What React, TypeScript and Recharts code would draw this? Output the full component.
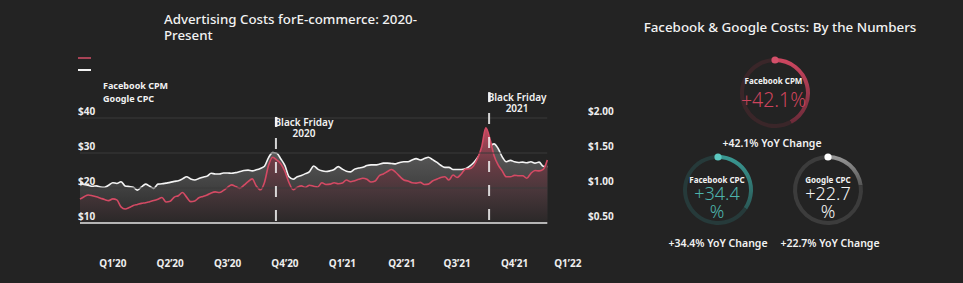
import { Area, Cell, ComposedChart, Pie, PieChart, ReferenceLine, XAxis, YAxis } from 'recharts'

// weekly values, Jan 2020 -> Mar 2022
const facebookCpm = [
    16.8, 17.5, 18.0, 17.8, 17.5, 17.1, 16.7, 16.4, 16.9, 16.6,
    14.6, 14.0, 14.4, 15.0, 15.3, 15.6, 15.8, 16.1, 16.4, 16.8,
    17.3, 16.0, 16.2, 17.4, 17.8, 18.7, 17.4, 16.1, 16.3, 17.2,
    17.6, 18.0, 18.6, 18.9, 18.7, 19.3, 20.2, 20.9, 20.4, 19.9,
    20.8, 21.8, 22.6, 20.6, 19.5, 21.6, 26.5, 28.8, 28.0, 26.9,
    24.7, 21.5, 19.5, 20.2, 20.6, 20.2, 20.8, 20.5, 20.3, 21.5,
    21.0, 21.1, 21.5, 21.2, 21.4, 22.3, 21.8, 22.1, 22.5, 22.8,
    22.5, 21.7, 22.0, 23.5, 24.0, 24.7, 25.3, 24.5, 23.3, 22.3,
    22.0, 21.5, 21.4, 21.6, 21.0, 21.1, 22.0, 22.5, 23.0, 23.2,
    22.3, 23.7, 23.0, 24.0, 25.4, 25.5, 26.3, 28.5, 31.8, 37.2,
    34.0, 29.3, 26.6, 24.9, 23.2, 23.2, 23.6, 23.5, 23.5, 22.8,
    24.2, 25.0, 24.9, 25.3, 28.0,
]

const googleCpc = [
    1.075, 1.05, 1.04, 1.025, 1.03, 1.015, 1.01, 1.04, 1.075, 1.065,
    1.09, 1.03, 1.02, 1.01, 0.97, 1.015, 1.055, 1.025, 0.995, 1.055,
    1.06, 1.07, 1.08, 1.095, 1.105, 1.13, 1.16, 1.13, 1.115, 1.135,
    1.155, 1.17, 1.21, 1.2, 1.2, 1.215, 1.215, 1.21, 1.22, 1.235,
    1.25, 1.255, 1.245, 1.26, 1.28, 1.31, 1.435, 1.505, 1.495, 1.415,
    1.32, 1.16, 1.125, 1.16, 1.18, 1.205, 1.235, 1.315, 1.27, 1.245,
    1.235, 1.245, 1.265, 1.305, 1.27, 1.24, 1.23, 1.27, 1.285, 1.295,
    1.32, 1.33, 1.33, 1.34, 1.355, 1.355, 1.35, 1.345, 1.365, 1.375,
    1.375, 1.4, 1.42, 1.4, 1.42, 1.44, 1.405, 1.37, 1.325, 1.295,
    1.295, 1.265, 1.265, 1.265, 1.275, 1.31, 1.36, 1.435, 1.52, 1.6,
    1.605, 1.63, 1.565, 1.445, 1.375, 1.395, 1.375, 1.365, 1.37, 1.36,
    1.375, 1.355, 1.37, 1.31, 1.305,
]

const quarterLabels = ['Q1’20', 'Q2’20', 'Q3’20', 'Q4’20', 'Q1’21', 'Q2’21', 'Q3’21', 'Q4’21', 'Q1’22']
const quarterWeeks = [8, 22, 36, 50, 64, 78.5, 92, 106, 119]
const cpmTicks = [10, 20, 30, 40]
const cpcTicks = [0.5, 1, 1.5, 2]
const gridValues = [20, 30, 40]
const blackFridayWeeks = [47.8, 99.8]
const blackFridayYears = ['2020', '2021']

const gaugeNames = ['Facebook CPM', 'Facebook CPC', 'Google CPC']
const gaugeChanges = [42.1, 34.4, 22.7]

const data = facebookCpm.map((cpm, i) => ({ week: i, cpm, cpc: googleCpc[i] }))
const lastWeek = data.length - 1

// top of the dashed marker sits a bit above the local peak of either series
const peakNear = (w: number) =>
    Math.max(...data.filter(d => Math.abs(d.week - w) < 3).flatMap(d => [d.cpm, d.cpc * 20]))

const FONT = '"Noto Sans", "Open Sans", sans-serif'

const BlackFridayLabel = ({ viewBox, year }: any) => {
    const { x, y } = viewBox
    return (
        <g fontFamily={FONT} fontSize={10} fontWeight={600} fill="#f2f2f2">
            <rect x={x - 1} y={y - 21} width={2.5} height={10} fill="#f2f2f2" />
            <text x={x + 28} y={y - 16} textAnchor="middle" dominantBaseline="central">Black Friday</text>
            <text x={x + 28} y={y - 5} textAnchor="middle" dominantBaseline="central">{year}</text>
        </g>
    )
}

const axisText = (dx: number, dy: number, anchor: string, fmt: (v: number, i: number) => string) => (props: any) => (
    <text x={props.x} y={props.y} dx={dx} dy={dy} textAnchor={anchor} dominantBaseline="central"
        fill="#eeeeee" fontSize={10} fontWeight={700} fontFamily={FONT}>
        {fmt(props.payload.value, props.index)}
    </text>
)

const CostsChart = () => (
    <ComposedChart width={640} height={283} data={data} margin={{ top: 83, right: 0, bottom: 0, left: 0 }}>
        <defs>
            <linearGradient id="cpcFill" x1="0" y1="0" x2="0" y2="1">
                <stop offset="0%" stopColor="#5e5e5e" />
                <stop offset="100%" stopColor="#282828" />
            </linearGradient>
            <linearGradient id="cpmFill" x1="0" y1="0" x2="0" y2="1">
                <stop offset="0%" stopColor="#c04a5f" />
                <stop offset="35%" stopColor="#6c3c45" />
                <stop offset="65%" stopColor="#4a373b" />
                <stop offset="100%" stopColor="#2a2828" />
            </linearGradient>
        </defs>
        <XAxis dataKey="week" type="number" domain={[0, 121]} ticks={quarterWeeks} interval={0}
            axisLine={false} tickLine={false} tickSize={0} tickMargin={0} height={60}
            tick={axisText(0, 40, 'middle', (_v, i) => quarterLabels[i])} />
        <YAxis yAxisId="cpm" domain={[10, 50]} ticks={cpmTicks} width={80} axisLine={false} tickLine={false}
            tickSize={0} tickMargin={0} tick={axisText(-2, -7, 'start', v => `$${v}`)} />
        <YAxis yAxisId="cpc" orientation="right" domain={[0.5, 2.5]} ticks={cpcTicks} width={64} axisLine={false}
            tickLine={false} tickSize={0} tickMargin={0} tick={axisText(12, -7, 'start', v => `$${v.toFixed(2)}`)} />
        {gridValues.map(v => (
            <ReferenceLine key={v} yAxisId="cpm" segment={[{ x: 0, y: v }, { x: lastWeek, y: v }]} stroke="#3a3a3a" strokeWidth={1} />
        ))}
        <Area yAxisId="cpc" type="monotone" dataKey="cpc" name="Google CPC" stroke="#f4f4f4" strokeWidth={1.6}
            fill="url(#cpcFill)" fillOpacity={1} dot={false} activeDot={false} isAnimationActive={false} />
        <Area yAxisId="cpm" type="monotone" dataKey="cpm" name="Facebook CPM" stroke="#d44a64" strokeWidth={1.6}
            fill="url(#cpmFill)" fillOpacity={1} dot={false} activeDot={false} isAnimationActive={false} />
        <ReferenceLine yAxisId="cpm" segment={[{ x: 0, y: 10 }, { x: lastWeek, y: 10 }]} stroke="#e6e6e6" strokeWidth={1.5} />
        {blackFridayWeeks.map((w, i) => (
            <ReferenceLine key={w} yAxisId="cpm" segment={[{ x: w, y: peakNear(w) + 4.2 }, { x: w, y: 10 }]}
                stroke="#f2f2f2" strokeOpacity={0.85} strokeWidth={2} strokeDasharray="11 13"
                label={(p: any) => <BlackFridayLabel viewBox={p.viewBox} year={blackFridayYears[i]} />} />
        ))}
    </ComposedChart>
)

const gaugeColors = [
    { hi: '#cf4761', lo: '#6a2a38', rest: '#3a2629', dot: '#d4506a', text: '#cc445c' },
    { hi: '#3a9a94', lo: '#2a5856', rest: '#263a3a', dot: '#5cc8c0', text: '#4db3ac' },
    { hi: '#9a9a9a', lo: '#555555', rest: '#3c3c3c', dot: '#ffffff', text: '#f4f4f4' },
]

const Gauge = ({ idx }: { idx: number }) => {
    const c = gaugeColors[idx]
    const value = gaugeChanges[idx]
    const ring = [{ v: value }, { v: 100 - value }]
    const dot = (p: any) => {
        if (p.index !== 0) return null
        const a = -((p.startAngle ?? 90) * Math.PI) / 180
        const r = (p.innerRadius + p.outerRadius) / 2
        return <circle cx={p.cx + r * Math.cos(a)} cy={p.cy + r * Math.sin(a)} r={3.6} fill={c.dot} />
    }
    return (
        <PieChart width={80} height={80}>
            <defs>
                <linearGradient id={`gauge${idx}`} x1="0" y1="0" x2="0" y2="1">
                    <stop offset="0%" stopColor={c.hi} />
                    <stop offset="100%" stopColor={c.lo} />
                </linearGradient>
            </defs>
            <Pie data={ring} dataKey="v" cx="50%" cy="50%" innerRadius={31} outerRadius={35} startAngle={90} endAngle={-270}
                stroke="none" isAnimationActive={false} label={dot} labelLine={false}>
                <Cell fill={`url(#gauge${idx})`} />
                <Cell fill={c.rest} />
            </Pie>
        </PieChart>
    )
}

const at = (x: number, y: number, extra: any = {}) => ({
    position: 'absolute' as const, left: x, top: y, transform: 'translate(-50%, -50%)', whiteSpace: 'nowrap' as const,
    lineHeight: 1, ...extra,
})

const gaugeCenters = [{ x: 775, y: 93 }, { x: 717.5, y: 190 }, { x: 828, y: 190 }]

// inner caption of a gauge: name on one line, the change below it (wrapped for the small ones)
const GaugeCaption = ({ idx, left, top, wide }: { idx: number, left: number, top: number, wide: boolean }) => (
    <div style={{ position: 'absolute', left: left - 40, top, width: 80, textAlign: 'center', whiteSpace: 'nowrap' }}>
        <div style={{ fontSize: 8, fontWeight: 700, lineHeight: '9px' }}>{gaugeNames[idx]}</div>
        <div style={{ fontSize: wide ? 19.5 : 18, fontWeight: 300, lineHeight: wide ? '29px' : '18px', color: gaugeColors[idx].text }}>
            +{gaugeChanges[idx]}{wide ? '%' : <><br />%</>}
        </div>
    </div>
)

export default function App() {
    return (
        <div style={{ position: 'fixed', left: 0, top: 0, width: 963, height: 283, background: '#232323', overflow: 'hidden', fontFamily: FONT, color: '#f2f2f2' }}>
            <div style={{ position: 'absolute', left: 0, top: 0 }}>
                <CostsChart />
            </div>
            <div style={{ position: 'absolute', left: 164, top: 11, fontSize: 13.3, lineHeight: '16px', fontWeight: 500 }}>
                Advertising Costs forE-commerce: 2020-<br />Present
            </div>
            <div style={{ position: 'absolute', left: 78, top: 57, width: 13, height: 2, background: '#a84356' }} />
            <div style={{ position: 'absolute', left: 78, top: 69, width: 13, height: 2, background: '#f2f2f2' }} />
            <div style={{ position: 'absolute', left: 103, top: 79, fontSize: 9, lineHeight: '13px', fontWeight: 700 }}>
                Facebook CPM<br />Google CPC
            </div>

            <div style={at(780, 28, { fontSize: 13.4, fontWeight: 500 })}>Facebook &amp; Google Costs: By the Numbers</div>
            {gaugeCenters.map((g, i) => (
                <div key={i} style={{ position: 'absolute', left: g.x - 40, top: g.y - 40 }}>
                    <Gauge idx={i} />
                </div>
            ))}
            <GaugeCaption idx={0} left={773.5} top={76} wide />
            <div style={at(772, 142.5, { fontSize: 10.5, fontWeight: 600 })}>+{gaugeChanges[0]}% YoY Change</div>

            <GaugeCaption idx={1} left={717} top={174.5} wide={false} />
            <div style={at(718, 243, { fontSize: 10.5, fontWeight: 600 })}>+{gaugeChanges[1]}% YoY Change</div>

            <GaugeCaption idx={2} left={828} top={174.5} wide={false} />
            <div style={at(830, 243, { fontSize: 10.5, fontWeight: 600 })}>+{gaugeChanges[2]}% YoY Change</div>
        </div>
    )
}
